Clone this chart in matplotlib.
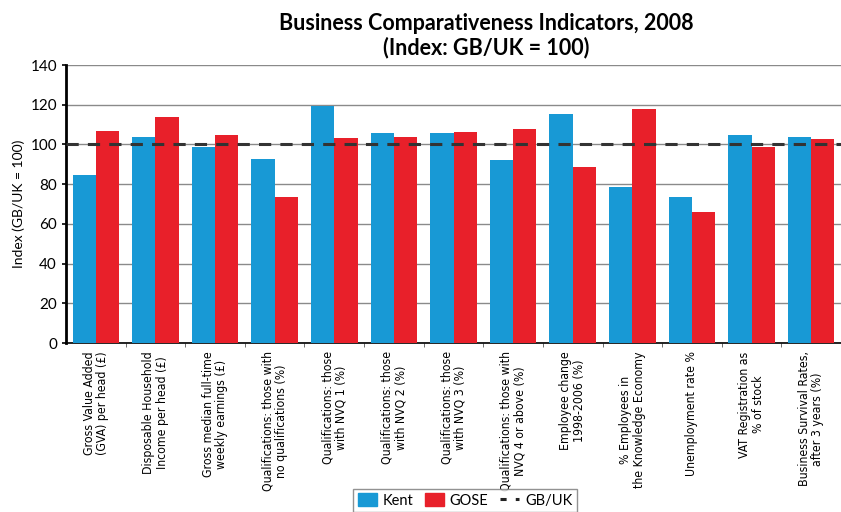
import numpy as np
import matplotlib
matplotlib.use("Agg")
import matplotlib.pyplot as plt
from matplotlib.patches import Patch
from matplotlib.lines import Line2D

# indicadores y valores indice (GB/UK = 100)
indicadores = [
    "Gross Value Added\n(GVA) per head (£)",
    "Disposable Household\nIncome per head (£)",
    "Gross median full-time\nweekly earnings (£)",
    "Qualifications: those with\nno qualifications (%)",
    "Qualifications: those\nwith NVQ 1 (%)",
    "Qualifications: those\nwith NVQ 2 (%)",
    "Qualifications: those\nwith NVQ 3 (%)",
    "Qualifications: those with\nNVQ 4 or above (%)",
    "Employee change\n1998-2006 (%)",
    "% Employees in\nthe Knowledge Economy",
    "Unemployment rate %",
    "VAT Registration as\n% of stock",
    "Business Survival Rates,\nafter 3 years (%)",
]
kent = [84.5, 104, 98.5, 92.5, 119.5, 106, 106, 92, 115.5, 78.5, 73.5, 105, 104]
gose = [107, 114, 105, 73.5, 103, 104, 106.5, 108, 88.5, 118, 66, 98.5, 102.5]
referencia = 100

azul = "#1899d5"
rojo = "#e8202a"

fig = plt.figure(figsize=(8.41, 5.12), dpi=100)
ax = fig.add_axes([0.0785, 0.330, 0.9215, 0.543])

x = np.arange(len(indicadores))
w = 0.39
ax.bar(x - w / 2, kent, w, color=azul, zorder=3)
ax.bar(x + w / 2, gose, w, color=rojo, zorder=3)
ax.axhline(referencia, color="#333333", lw=2.2, ls=(0, (4, 3)), zorder=4)

ax.set_xlim(-0.5, len(indicadores) - 0.5)
ax.set_ylim(0, 140)
ax.set_yticks(np.arange(0, 141, 20))
ax.yaxis.grid(True, color="#8a8a8a", lw=1, zorder=0)
ax.set_axisbelow(True)

for s in ["top", "right"]:
    ax.spines[s].set_visible(False)
ax.spines["left"].set_linewidth(2)
ax.spines["bottom"].set_linewidth(1.2)

# ticks menores entre grupos, etiquetas en el centro
ax.set_xticks(x + 0.5, minor=True)
ax.set_xticks(x)
ax.tick_params(axis="x", which="major", length=0, pad=6)
ax.tick_params(axis="x", which="minor", length=3, color="#555555")
ax.set_xticklabels(indicadores, rotation=90, va="top", ha="center",
                   multialignment="center", linespacing=1.05,
                   family="DejaVu Sans", fontstretch="condensed", fontsize=8.8)
ax.tick_params(axis="y", labelsize=11, length=3, width=1.2)
for t in ax.get_yticklabels():
    t.set_family(["Lato", "DejaVu Sans"])

ax.set_ylabel("Index (GB/UK = 100)", fontsize=10, family=["Lato", "DejaVu Sans"])

fig.text(0.578, 0.975, "Business Comparativeness Indicators, 2008\n(Index: GB/UK = 100)",
         ha="center", va="top", fontsize=15.5, fontweight="bold",
         family=["Lato", "DejaVu Sans"], linespacing=1.15)

handles = [Patch(color=azul, label="Kent"),
           Patch(color=rojo, label="GOSE"),
           Line2D([0], [0], color="#222222", lw=2.2, ls=(0, (2, 3)), label="GB/UK")]
fig.legend(handles=handles, loc="upper center", bbox_to_anchor=(0.553, 0.045),
           borderaxespad=0, ncol=3, frameon=True, fancybox=False,
           edgecolor="#777777", handlelength=1.3, handleheight=1.0,
           columnspacing=0.8, handletextpad=0.4, borderpad=0.3,
           prop={"family": ["Lato", "DejaVu Sans"], "size": 10.5})

plt.savefig("out.png", dpi=100)
